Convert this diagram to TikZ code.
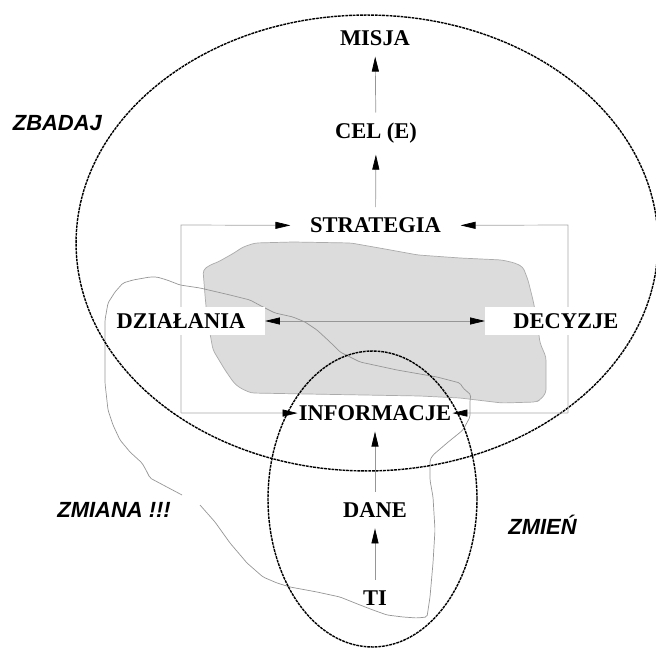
\documentclass[tikz,border=0pt]{standalone}
\usepackage{fontspec}
\setmainfont{Liberation Serif}
\newfontfamily\tagfont{Liberation Sans}
\usetikzlibrary{arrows.meta}
\definecolor{blobgray}{RGB}{220,220,220}
\definecolor{linegray}{RGB}{150,150,150}

\begin{document}
\begin{tikzpicture}[
    x=0.02cm, y=-0.02cm,
    >={Triangle[length=8.5pt,width=4pt,color=black]},
    term/.style={font=\fontsize{12.8}{14}\selectfont\bfseries, inner sep=3pt, anchor=base},
    tag/.style={font=\tagfont\fontsize{12.5}{14}\selectfont\bfseries\itshape, inner sep=0pt, anchor=base west},
    box/.style={font=\fontsize{12.8}{14}\selectfont\bfseries, fill=white, inner xsep=3pt, inner ysep=3.7pt},
    arrow/.style={->, draw=linegray, line width=0.4pt, shorten >=3pt, shorten <=3pt},
    frame/.style={->, draw=linegray!85, line width=0.4pt},
    zone/.style={draw=black, line width=0.8pt, dash pattern=on 1.6pt off 0.5pt},
    outline/.style={draw=linegray, line width=0.4pt, rounded corners=1pt},
    blob/.style={fill=blobgray, draw=linegray!80, line width=0.4pt, rounded corners=2pt}
]
    \useasboundingbox (0,0) rectangle (656,648);

    % Grey area
    \draw[blob] (203,270) -- (210,265) -- (218,262) -- (234,253) -- (243,247) -- (255,243)
        -- (293,242) -- (351,243) -- (385,249) -- (418,255) -- (460,258) -- (502,260)
        -- (515,263) -- (523,267) -- (528,280) -- (533,300) -- (537,320) -- (540,343)
        -- (546,357) -- (546,393) -- (540,400) -- (536,402) -- (502,403) -- (460,398)
        -- (420,396) -- (251,393) -- (240,388) -- (234,383) -- (225,370) -- (213,350)
        -- (207,317) -- (205,295) -- cycle;

    % Outline of the change
    \draw[outline] (200,505) -- (215,522) -- (230,543) -- (247,563) -- (263,577) -- (277,583)
        -- (290,587) -- (317,592) -- (340,597) -- (360,605) -- (373,610) -- (387,615)
        -- (403,617) -- (417,618) -- (427,617) -- (430,597) -- (433,563) -- (435,530)
        -- (433,497) -- (430,480) -- (430,460) -- (433,455) -- (447,443) -- (463,430)
        -- (470,417) -- (470,400) -- (471,395) -- (463,388) -- (460,383) -- (437,377)
        -- (397,370) -- (360,362) -- (340,352) -- (330,342) -- (317,330) -- (305,322)
        -- (293,317) -- (275,313) -- (263,307) -- (250,300) -- (230,295) -- (200,288)
        -- (180,285) -- (167,280) -- (157,277) -- (150,277) -- (133,280) -- (123,283)
        -- (115,292) -- (108,303) -- (105,320) -- (105,350) -- (105,383) -- (108,410)
        -- (113,425) -- (120,440) -- (130,452) -- (142,463) -- (146,470) -- (150,478)
        -- (165,486) -- (182,495);

    % Zones
    \draw[zone] (367,243) ellipse [x radius=5.82cm, y radius=4.56cm];
    \draw[zone] (372.5,499) ellipse [x radius=2.09cm, y radius=2.96cm];

    % Terms
    \node[term] (misja) at (375,45.5) {MISJA};
    \node[term] (cel) at (376,139) {CEL (E)};
    \node[term, inner xsep=11pt] (strategia) at (375.5,233) {STRATEGIA};
    \node[term, inner xsep=0.5pt] (informacje) at (375,420.5) {INFORMACJE};
    \node[term] (dane) at (375,517.5) {DANE};
    \node[term] (ti) at (375,605.5) {TI};

    % Tags
    \node[tag] (zbadaj) at (12.5,130.5) {ZBADAJ};
    \node[tag] (zmiana) at (57,518) {ZMIANA !!!};
    \node[tag] (zmien) at (508,534) {ZMIEŃ};

    % Frame
    \coordinate (ftl) at (181,225);
    \coordinate (fbl) at (181,413);
    \coordinate (ftr) at (568,225);
    \coordinate (fbr) at (568,413);
    \draw[frame] (fbl) -- (ftl) -- (strategia);
    \draw[frame] (fbr) -- (ftr) -- (strategia);
    \draw[frame] (fbl) -- (informacje);
    \draw[frame] (fbr) -- (informacje);

    \node[box, anchor=east] (dzialania) at (265,321) {DZIAŁANIA\hspace*{8pt}};
    \node[box, anchor=west] (decyzje) at (485,321) {\hspace*{13pt}DECYZJE};

    % Links
    \draw[arrow, <->, shorten >=0pt, shorten <=0pt] (dzialania) -- (decyzje);
    \draw[arrow] (cel) -- (misja);
    \draw[arrow] (strategia) -- (cel);
    \draw[arrow] (dane) -- (informacje);
    \draw[arrow] (ti) -- (dane);
\end{tikzpicture}
\end{document}
